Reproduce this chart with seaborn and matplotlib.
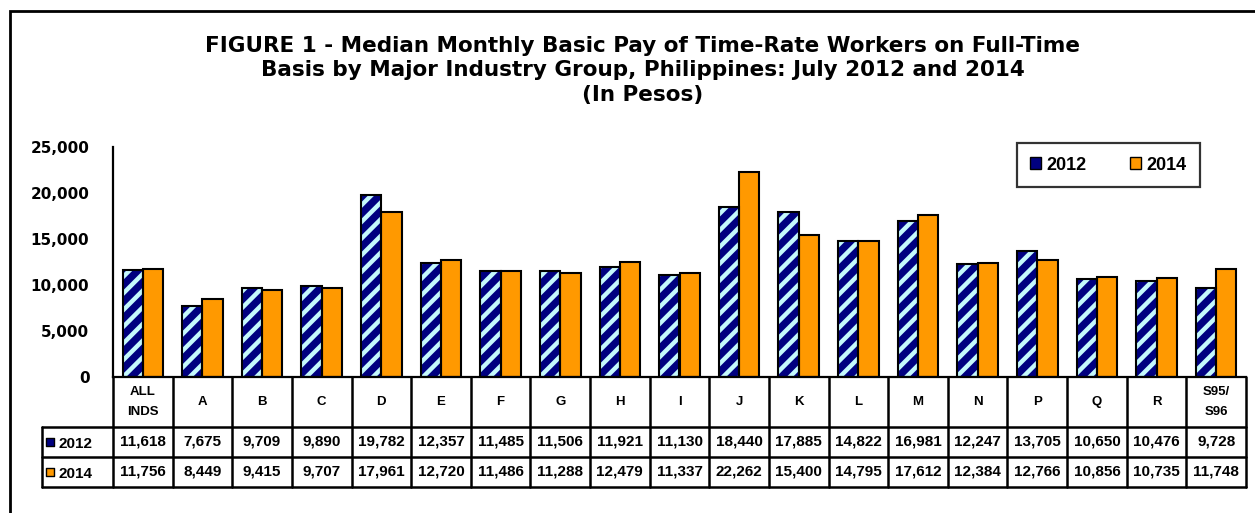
import numpy as np
import pandas as pd
import matplotlib
matplotlib.use("Agg")
import matplotlib.pyplot as plt
import matplotlib.transforms as mtransforms
from matplotlib.patches import Patch, Rectangle
import seaborn as sns

# data
categories = ["ALL\nINDS", "A", "B", "C", "D", "E", "F", "G", "H", "I",
              "J", "K", "L", "M", "N", "P", "Q", "R", "S95/\nS96"]
pay_2012 = [11618, 7675, 9709, 9890, 19782, 12357, 11485, 11506, 11921, 11130,
            18440, 17885, 14822, 16981, 12247, 13705, 10650, 10476, 9728]
pay_2014 = [11756, 8449, 9415, 9707, 17961, 12720, 11486, 11288, 12479, 11337,
            22262, 15400, 14795, 17612, 12384, 12766, 10856, 10735, 11748]
years = ["2012", "2014"]
y_ticks = [0, 5000, 10000, 15000, 20000, 25000]

NAVY = "#000080"
STRIPE = "#C4F8FC"
ORANGE = "#FF9900"

sns.set_theme(style="white")
plt.rcParams["font.family"] = ["DejaVu Sans"]
plt.rcParams["hatch.linewidth"] = 3.2
for k in ["text.color", "axes.labelcolor", "xtick.color", "ytick.color"]:
    plt.rcParams[k] = "black"

df = pd.DataFrame({
    "industry": categories * 2,
    "year": [years[0]] * len(categories) + [years[1]] * len(categories),
    "pay": pay_2012 + pay_2014,
})

W, H = 1255, 513
fig = plt.figure(figsize=(W / 100, H / 100), dpi=100)
ax = fig.add_axes([113 / W, 1 - 377 / H, (1246 - 113) / W, 230 / H])

sns.barplot(data=df, x="industry", y="pay", hue="year", hue_order=years,
            palette=[NAVY, ORANGE], saturation=1, width=0.68, errorbar=None,
            legend=False, ax=ax)

# striped 2012 bars + black outlines
for k, cont in enumerate(ax.containers):
    for p in cont.patches:
        if k == 0:
            p.set_facecolor(NAVY)
            p.set_edgecolor(STRIPE)
            p.set_hatch("//")
            p.set_linewidth(0)
            ax.add_patch(Rectangle(p.get_xy(), p.get_width(), p.get_height(),
                                   fill=False, edgecolor="black", linewidth=1.5, zorder=3))
        else:
            p.set_edgecolor("black")
            p.set_linewidth(1.5)

ax.set_ylim(0, 25000)
ax.set_yticks(y_ticks)
ax.set_yticklabels([f"{v:,}" for v in y_ticks], fontweight="bold", fontsize=11)
ax.set_xticks([])
ax.set_xlabel("")
ax.set_ylabel("")
ax.set_xlim(-0.5, len(categories) - 0.5)
sns.despine(ax=ax, top=True, right=True)
for s in ["left", "bottom"]:
    ax.spines[s].set_color("black")
    ax.spines[s].set_linewidth(1.6)
ax.tick_params(axis="y", direction="out", length=6, width=1.4, color="black", pad=11)

# data table under the axis
trans = mtransforms.blended_transform_factory(ax.transData, ax.transAxes)
n = len(categories)
y_head = -50 / 230
y_r1 = y_head - 30 / 230
y_r2 = y_r1 - 30 / 230
x_lab = -0.5 - 71 / 59.6
tfont = dict(family="Liberation Sans", fontweight="bold", transform=trans,
             ha="center", va="center", clip_on=False)
lw = 1.8
for i in range(n + 1):
    ax.plot([i - 0.5, i - 0.5], [0, y_r2], color="black", lw=lw, transform=trans, clip_on=False)
ax.plot([x_lab, x_lab], [y_head, y_r2], color="black", lw=lw, transform=trans, clip_on=False)
for yy in [y_head, y_r1, y_r2]:
    ax.plot([x_lab, n - 0.5], [yy, yy], color="black", lw=lw, transform=trans, clip_on=False)

for i, cat in enumerate(categories):
    ax.text(i, y_head / 2, cat, fontsize=9.5, linespacing=1.9, **tfont)
    ax.text(i, (y_head + y_r1) / 2, f"{pay_2012[i]:,}", fontsize=11, **tfont)
    ax.text(i, (y_r1 + y_r2) / 2, f"{pay_2014[i]:,}", fontsize=11, **tfont)

for yr, yy, col in [(years[0], (y_head + y_r1) / 2, NAVY), (years[1], (y_r1 + y_r2) / 2, ORANGE)]:
    ax.scatter([x_lab + 0.13], [yy], marker="s", s=40, color=col, edgecolor="black",
               linewidth=1, transform=trans, clip_on=False, zorder=5)
    ax.text(x_lab + 0.28, yy - 0.008, yr, fontsize=11, family="Liberation Sans",
            fontweight="bold", transform=trans, ha="left", va="center", clip_on=False)

# legend
handles = [Patch(facecolor=NAVY, edgecolor="black", label=years[0]),
           Patch(facecolor=ORANGE, edgecolor="black", label=years[1])]
leg = ax.legend(handles=handles, loc="upper right", ncol=2,
                bbox_to_anchor=(1200 / W, 1 - 143 / H), bbox_transform=fig.transFigure,
                borderaxespad=0, frameon=True, fancybox=False, handlelength=0.6,
                handleheight=0.6, handletextpad=0.3, columnspacing=2.4,
                borderpad=0.75, prop=dict(family="Liberation Sans", weight="bold", size=13))
leg.get_frame().set_edgecolor("black")
leg.get_frame().set_linewidth(1.6)

# title
fig.text(643 / W, 1 - 36 / H,
         "FIGURE 1 - Median Monthly Basic Pay of Time-Rate Workers on Full-Time\n"
         "Basis by Major Industry Group, Philippines: July 2012 and 2014\n(In Pesos)",
         ha="center", va="top", fontsize=15.5, fontweight="bold", linespacing=1.28)

# outer frame
fig.add_artist(Rectangle((10 / W, -0.2), 1.2, 1.2 - 11 / H, transform=fig.transFigure,
                         fill=False, edgecolor="black", linewidth=2))

fig.savefig("out.png", dpi=100)
